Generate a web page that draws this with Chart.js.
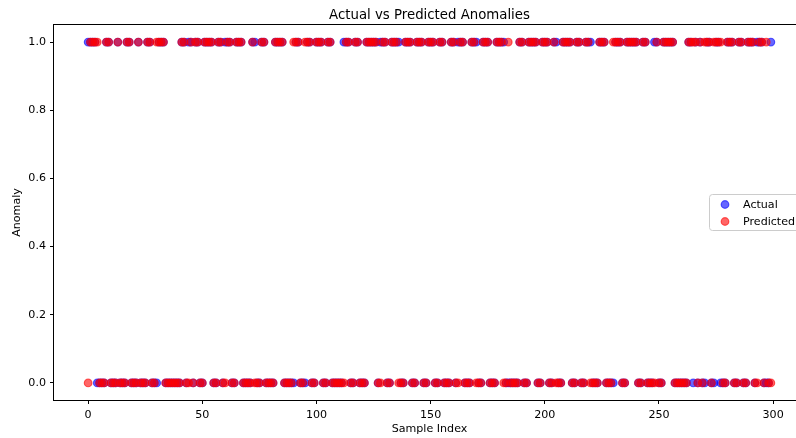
<!DOCTYPE html>
<html><head><meta charset="utf-8">
<script src="https://cdn.jsdelivr.net/npm/chart.js@4.4.1/dist/chart.umd.min.js"></script>
<style>html,body{margin:0;padding:0;overflow:hidden;background:#fff;width:796px;height:438px}canvas{display:block}</style>
</head><body><canvas id="c" width="810" height="438"></canvas>
<script>
const chartTitle = 'Actual vs Predicted Anomalies';
const xLabel = 'Sample Index';
const yLabel = 'Anomaly';
const seriesNames = ['Actual', 'Predicted'];
const xTicks = [0, 50, 100, 150, 200, 250, 300];
const yTicks = [0, 0.2, 0.4, 0.6, 0.8, 1.0];

const actual = [
1,1,1,1,0,0,0,0,1,1,
0,0,0,1,0,0,0,1,1,0,
0,0,1,0,0,0,1,1,0,0,
0,1,1,1,0,0,0,0,0,0,
0,1,1,0,1,1,0,1,1,0,
0,1,1,1,1,0,0,1,1,0,
1,1,1,0,0,1,1,1,0,0,
0,0,1,1,0,0,1,1,0,0,
0,0,1,1,1,1,0,0,0,0,
0,1,1,0,0,0,1,1,0,0,
1,1,1,0,0,1,1,0,0,0,
0,0,1,1,1,0,0,1,1,0,
0,0,1,1,1,1,1,0,1,1,
1,0,0,1,1,1,1,0,0,1,
1,1,0,0,1,1,1,0,0,1,
1,1,0,0,1,1,0,0,0,1,
1,0,1,1,1,0,0,0,1,1,
1,0,0,1,1,1,0,0,0,1,
1,1,1,0,0,0,0,0,0,1,
1,0,0,1,1,1,1,0,0,1,
1,1,0,0,1,1,0,0,1,1,
1,1,0,0,1,1,0,0,1,1,
1,0,0,0,1,1,1,0,0,0,
0,1,1,1,0,0,1,1,1,1,
1,0,0,1,1,0,0,0,1,1,
0,0,1,1,1,1,1,0,0,0,
0,0,0,1,1,0,1,0,1,0,
0,1,1,0,0,1,1,0,0,0,
1,1,1,0,0,1,1,0,0,1,
1,1,0,1,1,1,0,0,0,1
];

const predicted = [
0,1,1,1,1,0,0,0,1,1,
0,0,0,1,0,0,0,1,1,0,
0,0,1,0,0,0,1,1,0,0,
1,1,1,1,0,0,0,0,0,0,
0,1,1,0,0,1,0,1,1,0,
0,1,1,1,1,0,0,1,1,0,
0,1,1,0,0,1,1,1,0,0,
0,0,1,0,0,0,1,1,0,0,
0,0,1,1,1,1,0,0,0,0,
1,1,1,0,0,1,1,1,0,0,
1,1,1,0,0,1,1,0,0,0,
0,0,0,1,1,0,0,1,1,0,
0,0,1,1,1,1,1,0,0,1,
1,0,0,1,1,1,0,0,0,1,
1,1,0,0,1,1,1,0,0,1,
1,1,0,0,1,1,0,0,0,1,
1,0,0,1,1,0,0,0,1,1,
0,0,0,1,1,1,0,0,0,1,
1,1,0,0,1,0,0,0,0,1,
1,0,0,1,1,1,1,0,0,1,
1,1,0,0,1,0,0,0,1,1,
1,1,0,0,1,1,0,0,1,1,
0,0,0,0,1,1,1,0,0,0,
1,1,1,1,0,0,1,1,1,1,
1,0,0,1,1,0,0,0,0,1,
0,0,1,1,1,1,1,0,0,0,
0,0,0,1,1,1,1,0,1,0,
1,1,1,0,1,1,1,1,0,0,
1,1,1,0,0,1,1,0,0,1,
1,1,0,0,1,1,0,1,0,0
];

const FONT = "'DejaVu Sans', sans-serif";
const blue = 'rgba(0,0,255,0.6)';
const red = 'rgba(255,0,0,0.6)';
const colors = [blue, red];
const R = 3.8, BW = 1.2;

const decor = {
  id: 'decor',
  afterDraw(chart) {
    const ctx = chart.ctx, a = chart.chartArea;
    ctx.save();
    ctx.strokeStyle = '#000';
    ctx.lineWidth = 1;
    ctx.strokeRect(Math.round(a.left) - 0.5, Math.round(a.top) - 0.5, Math.round(a.right - a.left) + 1, Math.round(a.bottom - a.top) + 1);
    ctx.fillStyle = '#000';
    ctx.font = '13.3px ' + FONT;
    ctx.textAlign = 'center';
    ctx.textBaseline = 'alphabetic';
    ctx.fillText(chartTitle, (a.left + a.right) / 2, 18.5);
    ctx.font = '11.1px ' + FONT;
    ctx.textBaseline = 'top';
    ctx.fillText(xLabel, (a.left + a.right) / 2, 424);
    ctx.save();
    ctx.translate(17, (a.top + a.bottom) / 2);
    ctx.rotate(-Math.PI / 2);
    ctx.textBaseline = 'middle';
    ctx.fillText(yLabel, 0, 0);
    ctx.restore();
    const lx = 709, ly = 194, lw = 93, lh = 36;
    ctx.beginPath();
    ctx.roundRect(lx + 0.5, ly + 0.5, lw, lh, 3);
    ctx.fillStyle = 'rgba(255,255,255,0.8)';
    ctx.fill();
    ctx.strokeStyle = '#cccccc';
    ctx.stroke();
    ctx.textAlign = 'left';
    ctx.textBaseline = 'middle';
    seriesNames.forEach((name, i) => {
      const cy = ly + 10.5 + i * 17;
      ctx.beginPath();
      ctx.arc(lx + 16, cy, R, 0, Math.PI * 2);
      ctx.fillStyle = colors[i];
      ctx.fill();
      ctx.lineWidth = BW;
      ctx.strokeStyle = colors[i];
      ctx.stroke();
      ctx.fillStyle = '#000';
      ctx.fillText(name, lx + 34, cy + 0.5);
    });
    ctx.restore();
  }
};

const axisCommon = {
  grid: { display: true, drawOnChartArea: false, drawTicks: true, tickLength: 4, color: '#000' },
  border: { display: false },
  ticks: { color: '#000', font: { family: FONT, size: 11.1 }, padding: 4 }
};

new Chart(document.getElementById('c'), {
  type: 'scatter',
  data: {
    datasets: [
      { label: seriesNames[0], data: actual.map((v, i) => ({ x: i, y: v })), backgroundColor: blue, borderColor: blue, borderWidth: BW, pointRadius: R, pointHoverRadius: R, order: 1 },
      { label: seriesNames[1], data: predicted.map((v, i) => ({ x: i, y: v })), backgroundColor: red, borderColor: red, borderWidth: BW, pointRadius: R, pointHoverRadius: R, order: 0 }
    ]
  },
  options: {
    responsive: false,
    animation: false,
    events: [],
    layout: { padding: { top: 25, right: 4, left: 0, bottom: 0 } },
    plugins: { legend: { display: false }, title: { display: false }, tooltip: { enabled: false } },
    scales: {
      x: Object.assign({}, axisCommon, {
        type: 'linear', min: -14.95, max: 313.95,
        afterBuildTicks: s => { s.ticks = xTicks.map(v => ({ value: v })); },
        afterFit: s => { s.height = 38; },
        ticks: Object.assign({}, axisCommon.ticks, { maxRotation: 0, callback: v => String(v) })
      }),
      y: Object.assign({}, axisCommon, {
        type: 'linear', min: -0.05, max: 1.05,
        afterBuildTicks: s => { s.ticks = yTicks.map(v => ({ value: v })); },
        afterFit: s => { s.width = 54; },
        ticks: Object.assign({}, axisCommon.ticks, { callback: v => Number(v).toFixed(1) })
      })
    }
  },
  plugins: [decor]
});
</script>
</body></html>
